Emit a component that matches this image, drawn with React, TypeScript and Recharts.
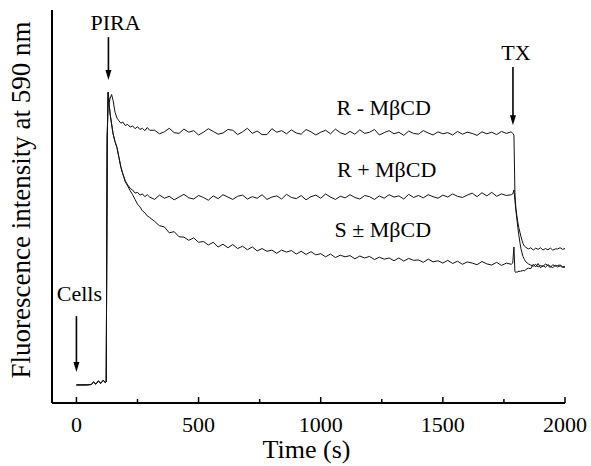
import { Label, Line, LineChart, ReferenceDot, ReferenceLine, XAxis, YAxis } from "recharts";

const FONT = "Liberation Serif";

// time (s)
const times = [
  0, 20, 40, 60, 70, 80, 90, 100, 110, 118,
  122, 126, 130, 134, 138, 144, 150, 158, 166, 174,
  182, 190, 200, 210, 220, 230, 240, 250, 260, 270,
  280, 290, 300,
  320, 340, 360, 380, 400, 420, 440, 460, 480, 500,
  520, 540, 560, 580, 600, 620, 640, 660, 680, 700,
  720, 740, 760, 780, 800, 820, 840, 860, 880, 900,
  920, 940, 960, 980, 1000, 1020, 1040, 1060, 1080, 1100,
  1120, 1140, 1160, 1180, 1200, 1220, 1240, 1260, 1280, 1300,
  1320, 1340, 1360, 1380, 1400, 1420, 1440, 1460, 1480, 1500,
  1520, 1540, 1560, 1580, 1600, 1620, 1640, 1660, 1680, 1700,
  1720, 1740, 1760, 1780,
  1786, 1791, 1795, 1799, 1803, 1807, 1811, 1816, 1820, 1824, 1828, 1834, 1840,
  1850, 1860, 1870, 1880, 1890, 1900, 1910, 1920, 1930, 1940,
  1950, 1960, 1970, 1980, 1990, 2000
];

// R - MβCD
const rMinus = [
  4.6, 4.6, 4.6, 4.7, 5.3, 4.8, 5.6, 5.0, 5.8, 5.2,
  5.5, 68, 79, 76.5, 77.5, 78.5, 77, 74, 72.5, 71.8,
  71.2, 71.5, 70.6, 70.9, 70.2, 70.5, 69.8, 70.3, 69.6, 69.9,
  69.3, 70.1, 69.4,
  69.4, 68.5, 69.0, 69.9, 68.8, 68.6, 69.7, 68.9, 69.3, 68.2,
  68.9, 69.8, 69.1, 68.4, 68.7, 69.6, 69.4, 68.3, 69.0, 69.9,
  68.6, 69.2, 68.3, 68.3, 69.8, 68.9, 69.3, 68.5, 69.5, 68.7,
  68.4, 69.6, 69.0, 68.2, 68.9, 69.4, 68.5, 69.7, 68.8, 68.3,
  69.1, 68.4, 69.5, 68.6, 68.9, 69.6, 68.2, 68.8, 69.3, 68.5,
  68.9, 68.1, 69.2, 68.6, 68.4, 69.3, 68.7, 68.2, 69.0, 68.5,
  68.8, 68.2, 69.1, 68.4, 68.9, 68.6, 68.1, 69.0, 68.5, 68.9,
  68.3, 69.1, 68.6, 69.0,
  68.6, 68.2, 53.5, 49.5, 47.6, 46.0, 44.6, 43.3, 42.3, 41.4, 40.6, 39.9, 39.6,
  39.2, 39.5, 38.9, 39.4, 39.1, 39.5, 38.9, 39.3, 39.0, 39.4,
  38.9, 39.2, 39.2, 39.5, 39.1, 39.3
];

// R + MβCD
const rPlus = [
  4.6, 4.6, 4.6, 4.7, 5.3, 4.8, 5.6, 5.0, 5.8, 5.2,
  5.5, 67, 79, 76, 73.5, 71, 68.5, 66.5, 65, 62.5,
  60, 58.3, 56.5, 55.5, 54.6, 54.2, 53.4, 53.6, 52.9, 53.2,
  52.5, 53.0, 52.4,
  51.8, 52.9, 52.1, 52.6, 51.7, 52.4, 53.1, 52.2, 51.9, 52.8,
  52.3, 51.6, 52.7, 52.0, 53.0, 52.4, 51.8, 52.6, 52.9, 51.9,
  52.5, 52.1, 53.0, 51.8, 52.4, 52.7, 51.9, 53.1, 52.3, 52.0,
  52.8, 51.7, 52.5, 52.9, 52.1, 53.2, 52.4, 51.8, 52.6, 52.2,
  53.0, 52.3, 51.9, 52.8, 52.5, 51.8, 52.7, 52.1, 53.0, 52.4,
  52.7, 51.9, 53.1, 52.3, 52.8, 52.2, 53.0, 52.5, 52.1, 52.9,
  52.4, 53.2, 52.6, 52.3, 52.9, 53.4, 52.5, 53.5, 52.7, 53.6,
  52.6, 53.2, 52.8, 53.0,
  53.2, 54.2, 51.5, 49.0, 46.8, 44.6, 42.7, 40.6, 39.2, 38.2, 37.3, 36.5, 35.9,
  35.4, 35.1, 34.8, 35.3, 34.6, 35.0, 34.7, 35.4, 35.0, 34.5,
  35.2, 34.8, 35.0, 35.1, 34.7, 34.7
];

// S ± MβCD
const sPm = [
  4.6, 4.6, 4.6, 4.7, 5.3, 4.8, 5.6, 5.0, 5.8, 5.2,
  5.5, 67, 79, 76, 73.5, 71, 68.5, 66.5, 65, 62.5,
  60, 58.3, 56.3, 55.2, 54.0, 53.0, 51.8, 50.6, 49.9, 48.9,
  48.4, 47.6, 47.2,
  46.2, 45.1, 44.8, 43.3, 43.6, 42.3, 42.2, 41.4, 42.0, 40.9,
  41.1, 40.2, 40.9, 39.7, 40.4, 39.5, 40.3, 39.3, 39.9, 39.0,
  39.7, 38.7, 39.3, 38.6, 38.9, 38.1, 38.9, 38.4, 38.8, 37.9,
  38.6, 37.8, 38.5, 37.7, 38.0, 37.2, 37.9, 37.0, 37.6, 37.2,
  37.5, 36.7, 37.4, 36.9, 37.3, 36.5, 37.1, 36.6, 36.9, 36.2,
  36.9, 36.1, 36.8, 36.3, 36.4, 35.8, 36.6, 35.9, 36.2, 35.6,
  36.3, 35.5, 36.1, 35.3, 35.9, 35.6, 35.2, 36.0, 35.4, 35.1,
  35.8, 35.0, 35.6, 35.3,
  35.6, 39.7, 33.4, 33.2, 33.4, 33.3, 33.6, 33.4, 33.7, 33.5, 33.8, 33.6, 34.0,
  34.3, 34.2, 35.3, 34.6, 35.5, 34.4, 35.0, 34.5, 35.2, 34.8,
  34.4, 35.1, 34.6, 34.9, 34.5, 34.6
];

const xTicks = [0, 250, 500, 750, 1000, 1250, 1500, 1750, 2000];

const data = times.map((t, i) => ({ t, rMinus: rMinus[i], rPlus: rPlus[i], sPm: sPm[i] }));

const textStyle = { fontFamily: FONT };

function TimeTick(props: any) {
  const { x, y, payload } = props;
  const major = payload.value % 500 === 0;
  return (
    <g>
      <line x1={x} y1={y} x2={x} y2={y - (major ? 6 : 4)} stroke="#000" strokeWidth={1.5} />
      {major && (
        <text x={x} y={y + 29} textAnchor="middle" fontSize={22} fontFamily={FONT} style={textStyle} fill="#000">
          {payload.value}
        </text>
      )}
    </g>
  );
}

function arrow(props: any) {
  const { x1, y1, x2, y2 } = props;
  return (
    <g>
      <line x1={x1} y1={y1} x2={x2} y2={y2 - 6} stroke="#000" strokeWidth={1.6} />
      <polygon points={`${x2 - 3},${y2 - 10} ${x2 + 3},${y2 - 10} ${x2},${y2}`} fill="#000" />
    </g>
  );
}

const note = (text: string) => (p: any) => (
  <text x={p.cx} y={p.cy} textAnchor="middle" fontSize={22} fontFamily={FONT} style={textStyle} fill="#000">
    {text}
  </text>
);

export default function App() {
  return (
    <div style={{ position: "absolute", left: 0, top: 0, background: "#fff", fontFamily: FONT }}>
      <LineChart width={591} height={466} data={data} margin={{ top: 10, right: 26, bottom: 0, left: 0 }}>
        <XAxis
          dataKey="t"
          type="number"
          domain={[-100, 2000]}
          ticks={xTicks}
          interval={0}
          tickSize={0}
          tickMargin={0}
          tickLine={false}
          tick={TimeTick}
          height={63}
          axisLine={{ stroke: "#000", strokeWidth: 2 }}
        >
          <Label
            content={(p: any) => (
              <text
                x={p.viewBox.x + p.viewBox.width / 2 - 2}
                y={p.viewBox.y + 55}
                textAnchor="middle"
                fontSize={26}
                fontFamily={FONT}
                style={textStyle}
                fill="#000"
              >
                Time (s)
              </text>
            )}
          />
        </XAxis>
        <YAxis
          type="number"
          domain={[0, 100]}
          width={52}
          tick={false}
          tickLine={false}
          axisLine={{ stroke: "#000", strokeWidth: 2 }}
        >
          <Label
            content={() => (
              <text
                x={30}
                y={200}
                transform="rotate(-90 30 200)"
                textAnchor="middle"
                fontSize={27}
                fontFamily={FONT}
                style={textStyle}
                fill="#000"
              >
                Fluorescence intensity at 590 nm
              </text>
            )}
          />
        </YAxis>
        <Line type="linear" dataKey="rMinus" stroke="#111" strokeWidth={1} dot={false} isAnimationActive={false} />
        <Line type="linear" dataKey="rPlus" stroke="#111" strokeWidth={1} dot={false} isAnimationActive={false} />
        <Line type="linear" dataKey="sPm" stroke="#111" strokeWidth={1} dot={false} isAnimationActive={false} />

        <ReferenceLine segment={[{ x: 131, y: 93.1 }, { x: 131, y: 82.2 }]} shape={arrow} ifOverflow="visible" />
        <ReferenceLine segment={[{ x: 1787, y: 85.5 }, { x: 1787, y: 70.7 }]} shape={arrow} ifOverflow="visible" />
        <ReferenceLine segment={[{ x: 0, y: 22.1 }, { x: 0, y: 7.9 }]} shape={arrow} ifOverflow="visible" />

        <ReferenceDot x={160} y={94.9} r={0} shape={note("PIRA")} ifOverflow="visible" />
        <ReferenceDot x={1799} y={87.3} r={0} shape={note("TX")} ifOverflow="visible" />
        <ReferenceDot x={12} y={26} r={0} shape={note("Cells")} ifOverflow="visible" />
        <ReferenceDot x={1258} y={73.3} r={0} shape={note("R - MβCD")} ifOverflow="visible" />
        <ReferenceDot x={1270} y={57.5} r={0} shape={note("R + MβCD")} ifOverflow="visible" />
        <ReferenceDot x={1254} y={42.2} r={0} shape={note("S ± MβCD")} ifOverflow="visible" />
      </LineChart>
    </div>
  );
}
